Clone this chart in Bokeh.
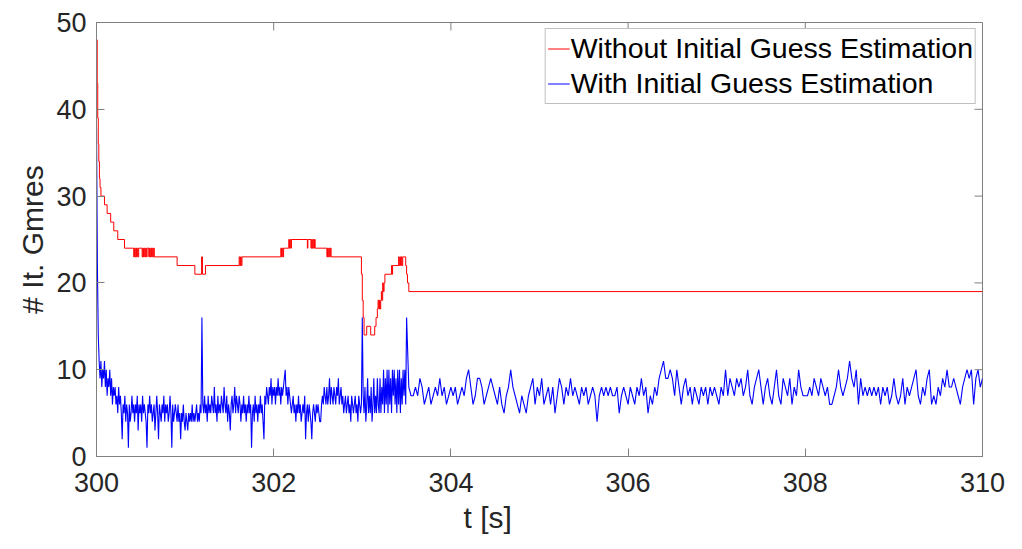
import numpy as np
from bokeh.plotting import figure
from bokeh.models import Range1d, FixedTicker, Title
from bokeh.embed import file_html
from bokeh.resources import INLINE

# ---------------- data ----------------
x_ticks = [300, 302, 304, 306, 308, 310]
y_ticks = [0, 10, 20, 30, 40, 50]

# Red: "Without Initial Guess Estimation" (step breakpoints: time, value)
red_t = [300.000, 300.008, 300.014, 300.020, 300.026, 300.033, 300.040, 300.050,
         300.090, 300.120, 300.160, 300.195, 300.240, 300.316,
         300.420, 300.428, 300.436, 300.444, 300.452, 300.460, 300.468, 300.476,
         300.515, 300.523, 300.531, 300.539, 300.547, 300.555, 300.563, 300.571,
         300.590, 300.598, 300.606, 300.614, 300.622, 300.630, 300.638, 300.646, 300.652,
         300.910, 301.110, 301.186, 301.196, 301.230,
         301.610, 301.618, 301.626, 301.634, 301.642,
         302.080, 302.088, 302.096, 302.104, 302.112,
         302.170, 302.178, 302.186, 302.194, 302.200,
         302.380, 302.386, 302.420, 302.428, 302.436, 302.444, 302.452, 302.460, 302.468,
         302.600, 302.608, 302.616, 302.624, 302.632, 302.640, 302.648,
         302.990, 303.000, 303.010, 303.020, 303.050, 303.095, 303.140, 303.155, 303.170,
         303.178, 303.186, 303.194, 303.200, 303.208, 303.215, 303.222, 303.230, 303.238,
         303.246, 303.255, 303.330, 303.336, 303.342,
         303.410, 303.416, 303.424, 303.432, 303.440, 303.448, 303.456,
         303.490, 303.500, 303.510, 303.525, 310.000]
red_v = [48, 43, 39, 36, 34, 32, 31, 30,
         29, 28, 27, 26, 25, 24,
         23, 24, 23, 24, 23, 24, 23, 24,
         23, 24, 23, 24, 23, 24, 23, 24,
         23, 24, 23, 24, 23, 24, 23, 24, 23,
         22, 21, 23, 21, 22,
         23, 22, 23, 22, 23,
         24, 23, 24, 23, 24,
         25, 24, 25, 24, 25,
         24, 25, 24, 25, 24, 25, 24, 25, 24,
         23, 24, 23, 24, 23, 24, 23,
         21, 18, 16, 14, 15, 14, 15, 16, 17,
         18, 17, 18, 17, 18, 19, 18, 20, 19,
         20, 21, 22, 21, 22,
         23, 22, 23, 22, 23, 22, 23,
         22, 21, 20, 19, 19]

# Blue: "With Initial Guess Estimation", dense part 300.00 .. 303.50 every 0.01 s
blue_dense = [
    38, 22, 14, 11, 9, 11, 8, 10, 9, 11,
    8, 10, 7, 9, 8, 10, 7, 9, 6, 8,
    7, 8, 6, 7, 5, 8, 6, 7, 5, 2,
    6, 5, 7, 4, 6, 5, 1, 6, 4, 5,
    7, 5, 6, 4, 6, 5, 7, 3, 6, 5,
    6, 4, 7, 5, 6, 5, 4, 1, 6, 5,
    7, 5, 6, 4, 5, 6, 3, 5, 7, 5,
    2, 6, 5, 4, 6, 5, 7, 4, 6, 5,
    6, 4, 5, 7, 5, 1, 6, 4, 5, 6,
    5, 4, 6, 4, 5, 2, 5, 4, 6, 4,
    3, 5, 4, 3, 5, 4, 5, 4, 6, 4,
    5, 4, 5, 6, 4, 5, 4, 6, 5, 16,
    6, 5, 7, 5, 6, 4, 7, 5, 6, 5,
    7, 6, 5, 8, 5, 6, 4, 7, 5, 6,
    5, 7, 6, 5, 8, 6, 5, 7, 4, 6,
    5, 3, 6, 7, 5, 6, 8, 5, 7, 6,
    5, 7, 6, 4, 6, 5, 7, 5, 6, 4,
    6, 5, 7, 5, 6, 1, 5, 6, 4, 7,
    5, 6, 4, 6, 5, 7, 5, 6, 4, 2,
    7, 6, 8, 7, 6, 8, 7, 9, 6, 8,
    7, 8, 6, 8, 7, 9, 7, 8, 6, 8,
    7, 8, 9, 10, 7, 8, 6, 8, 7, 6,
    5, 6, 7, 5, 6, 4, 6, 5, 7, 5,
    6, 4, 5, 6, 5, 7, 2, 5, 6, 4,
    6, 5, 4, 2, 5, 6, 5, 4, 6, 5,
    6, 5, 4, 4, 6, 7, 6, 8, 7, 6,
    8, 6, 7, 9, 6, 8, 7, 6, 8, 7,
    6, 8, 7, 9, 6, 7, 8, 6, 7, 5,
    6, 7, 5, 6, 7, 5, 6, 4, 7, 6,
    5, 6, 7, 5, 6, 4, 7, 6, 5, 6,
    16, 7, 5, 8, 4, 6, 9, 5, 7, 5,
    8, 4, 6, 9, 5, 7, 5, 9, 6, 5,
    9, 5, 8, 6, 10, 5, 9, 6, 10, 5,
    10, 6, 9, 5, 10, 7, 10, 6, 9, 5,
    10, 6, 10, 5, 9, 6, 10, 7, 10, 6,
    16]

# Blue sparse part 303.525 .. 310.0 every 0.025 s
blue_sparse = [
    8, 7, 7, 8, 7, 9, 8, 6, 7, 8,
    6, 7, 8, 7, 9, 7, 8, 6, 7, 8,
    7, 8, 6, 7, 8, 7, 9, 10, 8, 6,
    7, 9, 9, 8, 6, 7, 8, 9, 8, 7,
    6, 8, 6, 5, 7, 8, 10, 8, 7, 6,
    5, 7, 6, 5, 7, 8, 9, 6, 8, 7,
    9, 6, 7, 8, 6, 8, 5, 7, 9, 8,
    6, 8, 7, 9, 7, 8, 7, 6, 8, 7,
    8, 6, 7, 8, 7, 4, 7, 8, 7, 8,
    7, 8, 7, 7, 8, 5, 7, 8, 7, 6,
    8, 7, 6, 8, 7, 9, 7, 8, 5, 7,
    6, 8, 7, 9, 10, 11, 9, 9, 10, 9,
    7, 10, 8, 6, 8, 9, 7, 8, 6, 8,
    7, 6, 8, 7, 8, 6, 8, 7, 8, 7,
    6, 8, 7, 10, 7, 9, 8, 7, 9, 8,
    9, 7, 8, 10, 7, 6, 8, 9, 10, 8,
    6, 8, 9, 7, 6, 8, 10, 7, 6, 9,
    8, 7, 9, 6, 8, 7, 10, 8, 7, 7,
    7, 8, 7, 9, 8, 7, 9, 8, 7, 8,
    6, 6, 7, 8, 10, 8, 7, 8, 9, 11,
    9, 8, 10, 6, 9, 7, 8, 7, 8, 7,
    8, 7, 8, 6, 8, 7, 8, 6, 7, 9,
    7, 6, 7, 9, 6, 8, 7, 8, 9, 10,
    7, 6, 8, 7, 9, 10, 6, 7, 6, 8,
    7, 9, 8, 10, 8, 8, 9, 8, 7, 6,
    8, 9, 10, 9, 10, 6, 9, 10, 8, 9]

blue_t = list(np.round(300.0 + np.arange(len(blue_dense)) * 0.01, 4)) + \
         list(np.round(303.525 + np.arange(len(blue_sparse)) * 0.025, 4))
blue_v = blue_dense + blue_sparse

# ---------------- figure ----------------
FONT = "Liberation Sans"
GRAY = "#808080"
TXT = "#262626"
W, H = 1022, 549
ML, MR, MT, MB = 96, 40, 22, 93
X0, X1, Y0, Y1 = 300, 310, 0, 50

p = figure(width=W, height=H, output_backend="svg", toolbar_location=None,
           x_range=Range1d(X0, X1), y_range=Range1d(Y0, Y1),
           min_border_left=ML, min_border_right=MR, min_border_top=MT, min_border_bottom=MB)
p.background_fill_color = "white"
p.border_fill_color = "white"
p.xgrid.visible = False
p.ygrid.visible = False
p.outline_line_color = GRAY
p.outline_line_width = 1

p.step(red_t, red_v, mode="after", line_color="#ff0000", line_width=1,
       legend_label="Without Initial Guess Estimation")
p.line(blue_t, blue_v, line_color="#0000ff", line_width=1.1,
       legend_label="With Initial Guess Estimation")

# box ticks on the top and right edges (MATLAB "box on" style), 8 px long inside
TICK = 8
dx = TICK * (X1 - X0) / (W - ML - MR)
dy = TICK * (Y1 - Y0) / (H - MT - MB)
p.segment(x0=x_ticks, y0=[Y1] * len(x_ticks), x1=x_ticks, y1=[Y1 - dy] * len(x_ticks),
          line_color=GRAY, line_width=1)
p.segment(x0=[X1] * len(y_ticks), y0=y_ticks, x1=[X1 - dx] * len(y_ticks), y1=y_ticks,
          line_color=GRAY, line_width=1)

for ax, ticks in ((p.xaxis[0], x_ticks), (p.yaxis[0], y_ticks)):
    ax.ticker = FixedTicker(ticks=ticks)
    ax.major_tick_in = TICK
    ax.major_tick_out = 0
    ax.minor_tick_line_color = None
    ax.axis_line_color = GRAY
    ax.major_tick_line_color = GRAY
    ax.major_label_text_font = FONT
    ax.major_label_text_font_size = "27px"
    ax.major_label_text_color = TXT
p.xaxis[0].major_label_standoff = 16
p.yaxis[0].major_label_standoff = 10

p.yaxis[0].axis_label = "# It. Gmres"
p.yaxis[0].axis_label_text_font = FONT
p.yaxis[0].axis_label_text_font_size = "30px"
p.yaxis[0].axis_label_text_font_style = "normal"
p.yaxis[0].axis_label_text_color = TXT
p.yaxis[0].axis_label_standoff = 4

p.add_layout(Title(text="t [s]", align="left", offset=367, standoff=9,
                   text_font=FONT, text_font_size="30px", text_font_style="normal",
                   text_color=TXT), "below")

lg = p.legend[0]
lg.location = "top_right"
lg.margin = 6
lg.padding = 2
lg.spacing = 0
lg.glyph_width = 22
lg.glyph_height = 35
lg.label_height = 35
lg.label_standoff = 1
lg.label_text_font = FONT
lg.label_text_font_size = "28.5px"
lg.label_text_color = "#000000"
lg.border_line_color = GRAY
lg.border_line_width = 1
lg.background_fill_alpha = 1

open("out.html", "w").write(file_html(p, INLINE))
